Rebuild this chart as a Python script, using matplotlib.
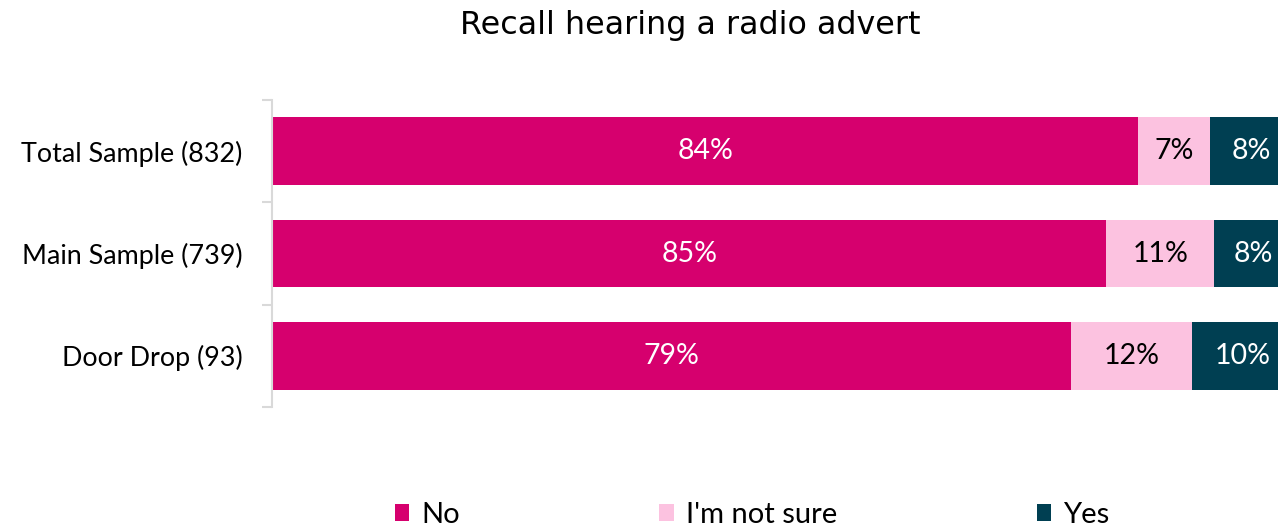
import numpy as np
import matplotlib
matplotlib.use("Agg")
import matplotlib.pyplot as plt
from matplotlib.patches import Patch

# Survey responses (percent of each sample)
categories = ["Total Sample (832)", "Main Sample (739)", "Door Drop (93)"]
series_names = ["No", "I'm not sure", "Yes"]
no_vals = [84, 85, 79]
not_sure_vals = [7, 11, 12]
yes_vals = [8, 8, 10]

colors = ["#D6006E", "#FCC2E0", "#003F52"]
label_colors = ["white", "black", "white"]

series = [no_vals, not_sure_vals, yes_vals]
totals = np.sum(np.array(series, dtype=float), axis=0)

fig = plt.figure(figsize=(12.78, 5.28), dpi=100)
W, H = 1278, 528
ax = fig.add_axes([272 / W, (H - 407) / H, 1021 / W, 307 / H])

y = np.arange(len(categories))
left = np.zeros(len(categories))
for vals, name, col, lc in zip(series, series_names, colors, label_colors):
    share = np.array(vals, dtype=float) / totals * 100
    bars = ax.barh(y, share, left=left, height=0.66, color=col, label=name)
    ax.bar_label(bars, labels=[f"{v}%" for v in vals], label_type="center",
                 color=lc, fontsize=20.5, family="Lato")
    left += share

ax.set_xlim(0, 100)
ax.set_ylim(2.5, -0.5)
ax.set_yticks(y)
ax.set_yticklabels(categories, fontsize=19.4, family="Lato")
ax.set_yticks([-0.5, 0.5, 1.5, 2.5], minor=True)
ax.tick_params(axis="y", which="major", length=0, pad=21)
ax.tick_params(axis="y", which="minor", length=7, width=1.5, color="#D9D9D9")
ax.set_xticks([])
for side in ["top", "right", "bottom"]:
    ax.spines[side].set_visible(False)
ax.spines["left"].set_color("#D9D9D9")
ax.spines["left"].set_linewidth(1.5)

fig.text(690.5 / W, (H - 34) / H, "Recall hearing a radio advert",
         ha="center", va="baseline", fontsize=22.9, family="DejaVu Sans")

handles = [Patch(facecolor=c, edgecolor="none") for c in colors]
fig.legend(handles, series_names, loc="center", ncol=3,
           bbox_to_anchor=(752 / W, (H - 515) / H), frameon=False,
           prop={"family": "Lato", "size": 21},
           handlelength=0.5, handleheight=0.5, handletextpad=0.4,
           columnspacing=6.85, borderpad=0, borderaxespad=0)

fig.savefig("out.png", dpi=100)
